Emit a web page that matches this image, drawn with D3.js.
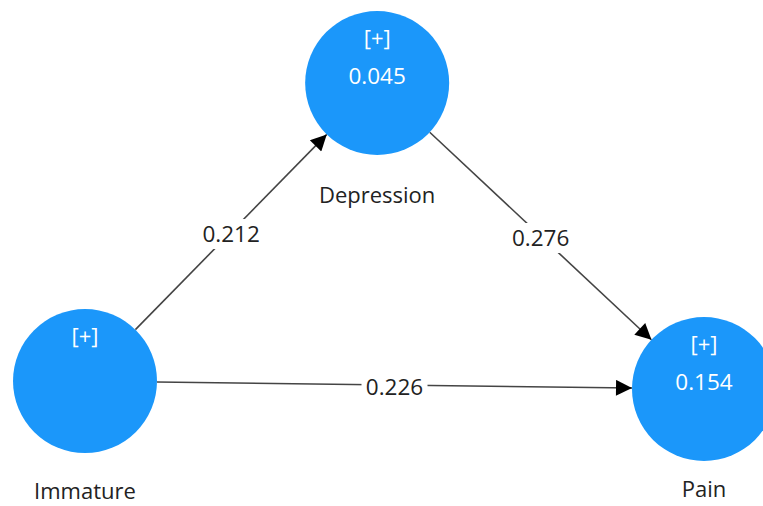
<!DOCTYPE html>
<html>
<head>
<meta charset="utf-8">
<script src="https://cdn.jsdelivr.net/npm/d3@7"></script>
<style>
html,body{margin:0;padding:0;background:#fff;}
svg{display:block;}
text{font-family:"Open Sans","Noto Sans",sans-serif;}
</style>
</head>
<body>
<svg id="c" width="763" height="506"></svg>
<script>
// Data
const constructs = ["Immature", "Depression", "Pain"];
const rSquared = [null, 0.045, 0.154];
const pathFrom = ["Immature", "Depression", "Immature"];
const pathTo = ["Depression", "Pain", "Pain"];
const pathCoef = [0.212, 0.276, 0.226];
// Layout (relative units)
const layoutX = [0, 0.472, 1];
const layoutY = [0.974, 0, 1];
const labelOffset = [110, 112, 100];

const svg = d3.select("#c");
const x = d3.scaleLinear().domain([0, 1]).range([85, 704]);
const y = d3.scaleLinear().domain([0, 1]).range([83, 389]);
const R = 72;
const fill = "#1B97FA";

const nodes = constructs.map((n, i) => ({name: n, r2: rSquared[i], cx: x(layoutX[i]), cy: y(layoutY[i]), lo: labelOffset[i]}));
const byName = Object.fromEntries(nodes.map(n => [n.name, n]));

const defs = svg.append("defs");
defs.append("marker").attr("id", "arr")
  .attr("viewBox", "0 0 10 10").attr("refX", 10).attr("refY", 5)
  .attr("markerWidth", 20).attr("markerHeight", 16).attr("markerUnits", "userSpaceOnUse")
  .attr("orient", "auto")
  .append("path").attr("d", "M0,0 L10,5 L0,10 Z").attr("fill", "#000");

const edges = pathCoef.map((c, i) => {
  const a = byName[pathFrom[i]], b = byName[pathTo[i]];
  const dx = b.cx - a.cx, dy = b.cy - a.cy, L = Math.hypot(dx, dy);
  const ux = dx / L, uy = dy / L;
  return {c, x1: a.cx + ux * R, y1: a.cy + uy * R, x2: b.cx - ux * R, y2: b.cy - uy * R};
});

svg.selectAll("line.e").data(edges).join("line").attr("class", "e")
  .attr("x1", d => d.x1).attr("y1", d => d.y1).attr("x2", d => d.x2).attr("y2", d => d.y2)
  .attr("stroke", "#444").attr("stroke-width", 1.6).attr("marker-end", "url(#arr)");

const lg = svg.selectAll("g.lab").data(edges).join("g").attr("class", "lab")
  .attr("transform", d => `translate(${(d.x1 + d.x2) / 2},${(d.y1 + d.y2) / 2 + 2})`);
lg.append("rect").attr("x", -33).attr("y", -15).attr("width", 66).attr("height", 30).attr("fill", "#fff");
lg.append("text").attr("text-anchor", "middle").attr("dy", "0.35em")
  .attr("font-size", 22.5).attr("fill", "#222").text(d => d.c.toFixed(3));

const ng = svg.selectAll("g.n").data(nodes).join("g").attr("class", "n")
  .attr("transform", d => `translate(${d.cx},${d.cy})`);
ng.append("circle").attr("r", R).attr("fill", fill);
ng.append("text").attr("text-anchor", "middle").attr("y", -45).attr("dy", "0.35em")
  .attr("font-size", 22).attr("fill", "#fff").text("[+]");
ng.filter(d => d.r2 != null).append("text").attr("text-anchor", "middle").attr("y", -7).attr("dy", "0.35em")
  .attr("font-size", 22.5).attr("fill", "#fff").text(d => d.r2.toFixed(3));
ng.append("text").attr("text-anchor", "middle").attr("y", d => d.lo).attr("dy", "0.35em")
  .attr("font-size", 22).attr("fill", "#222").text(d => d.name);
</script>
</body>
</html>
